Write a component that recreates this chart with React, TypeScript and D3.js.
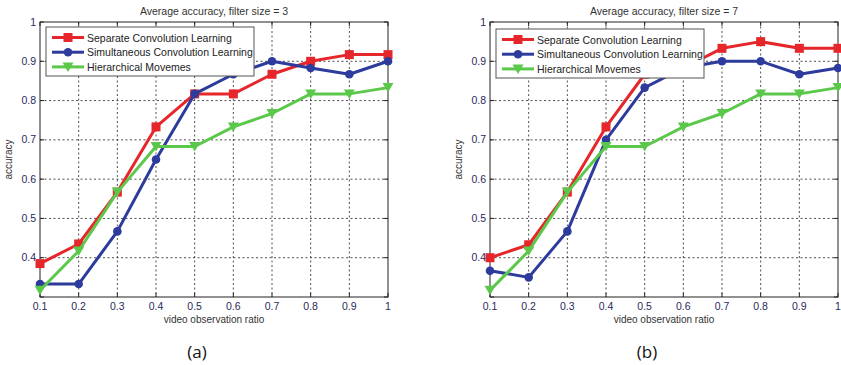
import React from 'react'
import * as d3 from 'd3'

const ratios = [0.1, 0.2, 0.3, 0.4, 0.5, 0.6, 0.7, 0.8, 0.9, 1]
const xTickLabels = ['0.1', '0.2', '0.3', '0.4', '0.5', '0.6', '0.7', '0.8', '0.9', '1']
const yTicks = [0.3, 0.4, 0.5, 0.6, 0.7, 0.8, 0.9, 1]
const yTickLabels = ['', '0.4', '0.5', '0.6', '0.7', '0.8', '0.9', '1']
const seriesNames = ['Separate Convolution Learning', 'Simultaneous Convolution Learning', 'Hierarchical Movemes']

// filter size = 3
const separate3 = [0.385, 0.435, 0.567, 0.733, 0.817, 0.817, 0.867, 0.9, 0.917, 0.917]
const simultaneous3 = [0.333, 0.333, 0.467, 0.65, 0.817, 0.867, 0.9, 0.883, 0.867, 0.9]
const hierarchical3 = [0.317, 0.417, 0.567, 0.683, 0.683, 0.733, 0.767, 0.817, 0.817, 0.833]

// filter size = 7
const separate7 = [0.4, 0.433, 0.567, 0.733, 0.867, 0.883, 0.933, 0.95, 0.933, 0.933]
const simultaneous7 = [0.367, 0.35, 0.467, 0.7, 0.833, 0.883, 0.9, 0.9, 0.867, 0.883]
const hierarchical7 = [0.317, 0.417, 0.567, 0.683, 0.683, 0.733, 0.767, 0.817, 0.817, 0.833]

const colors = ['#e5262b', '#2c3b9c', '#5cc84b']
const font = 'Liberation Sans, Arial, sans-serif'
const tickColor = '#2a2a5c'

const Marker = ({ kind, x, y, color }: { kind: number; x: number; y: number; color: string }) => {
  if (kind === 0) return <rect x={x - 4.5} y={y - 4.5} width={9} height={9} fill={color} />
  if (kind === 1) return <circle cx={x} cy={y} r={4.3} fill={color} />
  return <path d={`M${x - 5.5},${y - 4.5}L${x + 5.5},${y - 4.5}L${x},${y + 5}Z`} fill={color} />
}

const Panel = ({ left, title, letter, series, legendY }: { left: number; title: string; letter: string; series: number[][]; legendY: number }) => {
  const x = d3.scaleLinear().domain([0.1, 1]).range([left, left + 348])
  const y = d3.scaleLinear().domain([0.3, 1]).range([297, 22])
  const line = d3.line<number>().x((d, i) => x(ratios[i])).y(d => y(d))
  const [x0, x1] = x.range()
  const [y0, y1] = y.range()
  const lx = left + 6
  return (
    <g fontFamily={font}>
      <text x={(x0 + x1) / 2} y={15} textAnchor="middle" fontSize={10.5} fill="#333">{title}</text>
      {ratios.slice(1, -1).map(r => (
        <line key={'gx' + r} x1={x(r)} x2={x(r)} y1={y1} y2={y0} stroke="#222" strokeWidth={0.8} strokeDasharray="2,2.5" />
      ))}
      {yTicks.slice(1, -1).map(t => (
        <line key={'gy' + t} x1={x0} x2={x1} y1={y(t)} y2={y(t)} stroke="#222" strokeWidth={0.8} strokeDasharray="2,2.5" />
      ))}
      {ratios.map(r => (
        <g key={'tx' + r}>
          <line x1={x(r)} x2={x(r)} y1={y0} y2={y0 - 4} stroke="#222" />
          <line x1={x(r)} x2={x(r)} y1={y1} y2={y1 + 4} stroke="#222" />
        </g>
      ))}
      {yTicks.map(t => (
        <g key={'ty' + t}>
          <line x1={x0} x2={x0 + 4} y1={y(t)} y2={y(t)} stroke="#222" />
          <line x1={x1} x2={x1 - 4} y1={y(t)} y2={y(t)} stroke="#222" />
        </g>
      ))}
      <rect x={x0} y={y1} width={x1 - x0} height={y0 - y1} fill="none" stroke="#222" strokeWidth={1} />
      {ratios.map((r, i) => (
        <text key={'lx' + r} x={x(r)} y={y0 + 13} textAnchor="middle" fontSize={10.5} fill={tickColor}>{xTickLabels[i]}</text>
      ))}
      {yTicks.map((t, i) => (
        <text key={'ly' + t} x={x0 - 4} y={y(t) + 3.5} textAnchor="end" fontSize={10.5} fill={tickColor}>{yTickLabels[i]}</text>
      ))}
      <text x={(x0 + x1) / 2} y={y0 + 26} textAnchor="middle" fontSize={10} fill="#333">video observation ratio</text>
      <text transform={`translate(${x0 - 28},${(y0 + y1) / 2}) rotate(-90)`} textAnchor="middle" fontSize={10} fill="#333">accuracy</text>
      {series.map((s, k) => (
        <g key={'s' + k}>
          <path d={line(s) || ''} fill="none" stroke={colors[k]} strokeWidth={3} strokeLinejoin="round" />
          {s.map((v, i) => <Marker key={i} kind={k} x={x(ratios[i])} y={y(v)} color={colors[k]} />)}
        </g>
      ))}
      <rect x={lx} y={legendY} width={208} height={49} fill="#fff" stroke="#555" strokeWidth={1} />
      {seriesNames.map((n, k) => {
        const ry = legendY + 10.5 + k * 14.7
        return (
          <g key={n}>
            <line x1={lx + 6} x2={lx + 38} y1={ry} y2={ry} stroke={colors[k]} strokeWidth={3} />
            <Marker kind={k} x={lx + 22} y={ry} color={colors[k]} />
            <text x={lx + 41} y={ry + 4} fontSize={10.5} fill="#222">{n}</text>
          </g>
        )
      })}
      <text x={(x0 + x1) / 2 - 17} y={358} textAnchor="middle" fontSize={17} fill="#111" fontFamily="Open Sans, sans-serif">{letter}</text>
    </g>
  )
}

export default function App() {
  return (
    <svg width={841} height={365} style={{ position: 'absolute', left: 0, top: 0, background: '#fff' }}>
      <rect width={841} height={365} fill="#fff" />
      <Panel left={40} title="Average accuracy, filter size = 3" letter="(a)" series={[separate3, simultaneous3, hierarchical3]} legendY={27} />
      <Panel left={490} title="Average accuracy, filter size = 7" letter="(b)" series={[separate7, simultaneous7, hierarchical7]} legendY={29} />
    </svg>
  )
}
